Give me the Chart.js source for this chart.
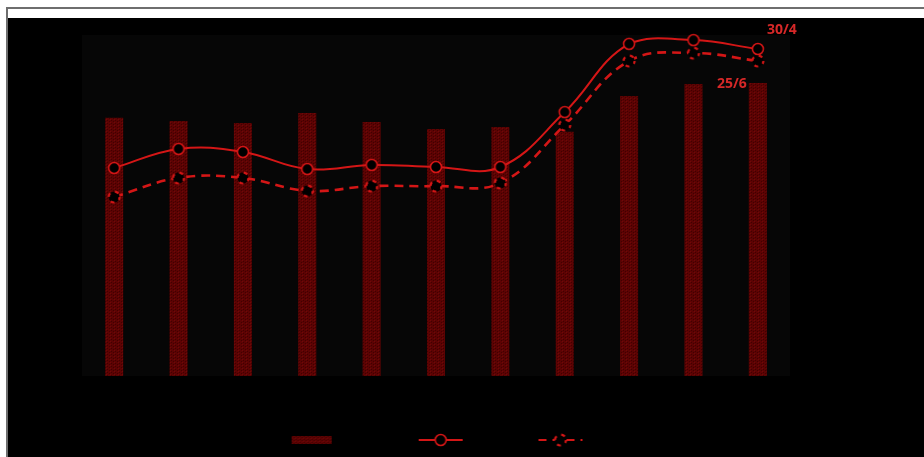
<!DOCTYPE html>
<html>
<head>
<meta charset="utf-8">
<script src="https://cdn.jsdelivr.net/npm/chart.js@4.4.1/dist/chart.umd.min.js"></script>
<style>
  html, body { margin: 0; padding: 0; background: #fff; width: 924px; height: 457px; overflow: hidden; }
  #frame { position: absolute; left: 6px; top: 7px; width: 918px; height: 450px;
           border-left: 2px solid #6e6e6e; border-top: 2px solid #6e6e6e; background: #fff; }
  #wrap { position: absolute; left: 0; top: 9px; width: 916px; height: 441px; background: #000; }
  canvas { display: block; }
</style>
</head>
<body>
<div id="frame"><div id="wrap"><canvas id="c" width="916" height="439"></canvas></div></div>
<script>
// Categories along the x axis
const categories = ['1', '2', '3', '4', '5', '6', '7', '8', '9', '10', '11'];
// Bar series
const volume = [75.7, 74.8, 74.2, 77.1, 74.5, 72.4, 73.0, 71.6, 82.1, 85.6, 85.9];
// Solid line series (ends at the "30/4" label)
const series304 = [61.0, 66.6, 65.7, 60.7, 61.9, 61.3, 61.3, 77.4, 97.4, 98.5, 95.9];
// Dashed line series (ends at the "25/6" label)
const series256 = [52.5, 58.1, 58.1, 54.3, 55.7, 55.7, 56.6, 73.6, 92.4, 94.7, 92.4];
// Legend names and end labels
const seriesNames = ['Sản lượng', 'Giá: 30/4', 'Giá 25/6'];
const endLabels = ['30/4', '25/6'];

const RED = 'rgb(212,22,22)';
const LABEL_RED = 'rgb(214,40,40)';

// Textured dark-red fill for the bars
function barPattern() {
  const p = document.createElement('canvas');
  p.width = 4; p.height = 3;
  const g = p.getContext('2d');
  g.fillStyle = 'rgb(92,3,3)';
  g.fillRect(0, 0, 4, 3);
  g.fillStyle = 'rgb(66,0,0)';
  g.fillRect(1, 1, 1, 1);
  g.fillRect(3, 0, 1, 1);
  g.fillStyle = 'rgb(112,8,8)';
  g.fillRect(2, 2, 1, 1);
  return document.getElementById('c').getContext('2d').createPattern(p, 'repeat');
}
const barFill = barPattern();

// Circle marker; the dashed variant breaks the ring like the dashed line
function marker(dashed) {
  const s = 16, cv = document.createElement('canvas');
  cv.width = s; cv.height = s;
  const g = cv.getContext('2d');
  g.beginPath();
  g.arc(s / 2, s / 2, 5.5, 0, Math.PI * 2);
  g.fillStyle = '#000';
  g.fill();
  g.strokeStyle = RED;
  g.lineWidth = dashed ? 2.2 : 1.6;
  if (dashed) { g.setLineDash([4, 5]); g.lineDashOffset = 1; }
  g.stroke();
  return cv;
}
const solidMarker = marker(false);
const dashMarker = marker(true);

// Legend glyphs
function legendIcon(kind) {
  const w = 46, h = 14, cv = document.createElement('canvas');
  cv.width = w; cv.height = h;
  const g = cv.getContext('2d');
  if (kind === 0) {
    g.fillStyle = barFill;
    g.fillRect(3, 3, 40, 8);
  } else {
    g.strokeStyle = RED;
    g.lineWidth = 2.2;
    if (kind === 2) g.setLineDash([8, 6]);
    g.beginPath(); g.moveTo(1, 7); g.lineTo(45, 7); g.stroke();
    g.drawImage(kind === 1 ? solidMarker : dashMarker, w / 2 - 8, h / 2 - 8);
  }
  return cv;
}
const legendIcons = [legendIcon(0), legendIcon(1), legendIcon(2)];

// Slightly lifted plot background
const plotBackground = {
  id: 'plotBackground',
  beforeDraw(chart) {
    const { ctx, chartArea: a } = chart;
    ctx.save();
    ctx.fillStyle = 'rgb(6,6,6)';
    ctx.fillRect(a.left, a.top, a.right - a.left, a.bottom - a.top);
    ctx.restore();
  }
};

// Text tags next to the last point of each line
const lineEndLabels = {
  id: 'lineEndLabels',
  afterDatasetsDraw(chart) {
    const { ctx } = chart;
    const offsets = [[24, -19], [-26, 23]];
    ctx.save();
    ctx.font = 'bold 14px "Open Sans", "DejaVu Sans", sans-serif';
    ctx.fillStyle = LABEL_RED;
    ctx.textAlign = 'center';
    ctx.textBaseline = 'middle';
    [0, 1].forEach((di, k) => {
      const pts = chart.getDatasetMeta(di).data;
      const p = pts[pts.length - 1];
      ctx.fillText(endLabels[k], p.x + offsets[k][0], p.y + offsets[k][1]);
    });
    ctx.restore();
  }
};

new Chart(document.getElementById('c'), {
  data: {
    labels: categories,
    datasets: [
      {
        type: 'line', label: seriesNames[1], data: series304, order: 1,
        borderColor: RED, borderWidth: 2, tension: 0.4,
        pointStyle: solidMarker, pointRadius: 6, clip: false
      },
      {
        type: 'line', label: seriesNames[2], data: series256, order: 2,
        borderColor: RED, borderWidth: 2.6, borderDash: [9, 6], tension: 0.4,
        pointStyle: dashMarker, pointRadius: 6, clip: false
      },
      {
        type: 'bar', label: seriesNames[0], data: volume, order: 3,
        backgroundColor: barFill, borderWidth: 0,
        barPercentage: 0.28, categoryPercentage: 1
      }
    ]
  },
  options: {
    responsive: false,
    animation: false,
    events: [],
    layout: { padding: { top: 17, right: 0, left: 0, bottom: 0 } },
    scales: {
      x: {
        grid: { display: false }, border: { display: false },
        ticks: { color: '#000', font: { size: 12 } },
        afterFit(s) { s.height = 47; }
      },
      y: {
        min: 0, max: 100,
        grid: { display: false }, border: { display: false },
        ticks: { color: '#000', font: { size: 12 } },
        afterFit(s) { s.width = 74; }
      },
      y2: {
        position: 'right', min: 0, max: 100,
        grid: { display: false }, border: { display: false },
        ticks: { color: '#000', font: { size: 12 } },
        afterFit(s) { s.width = 134; }
      }
    },
    plugins: {
      tooltip: { enabled: false },
      legend: {
        position: 'bottom',
        labels: {
          usePointStyle: true, pointStyleWidth: 46, boxHeight: 14,
          color: '#000', font: { size: 14 }, padding: 10,
          generateLabels(chart) {
            const order = [2, 0, 1];
            return order.map((di, k) => ({
              text: chart.data.datasets[di].label,
              pointStyle: legendIcons[k],
              fontColor: '#000', hidden: false, datasetIndex: di,
              lineWidth: 0, strokeStyle: 'rgba(0,0,0,0)', fillStyle: 'rgba(0,0,0,0)'
            }));
          }
        }
      }
    }
  },
  plugins: [plotBackground, lineEndLabels]
});
</script>
</body>
</html>
